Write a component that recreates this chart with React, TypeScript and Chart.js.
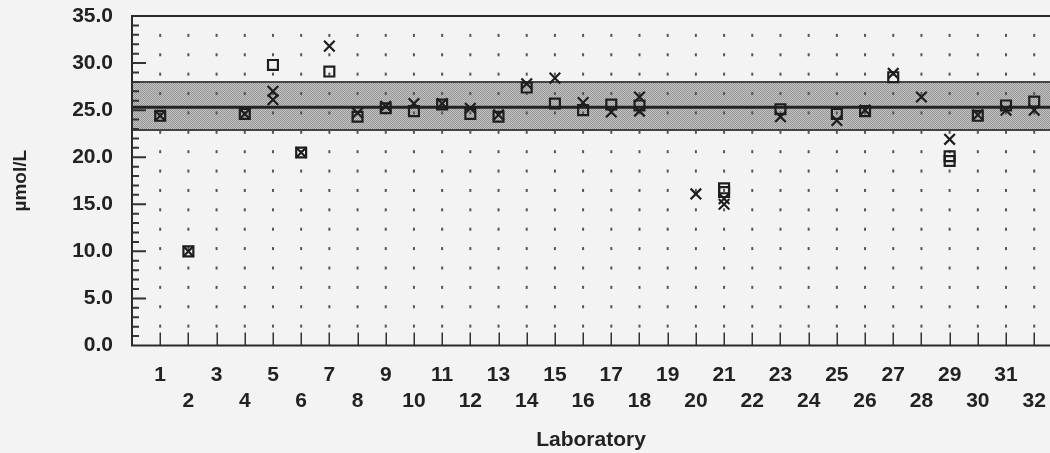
import { useEffect, useRef } from 'react';
import { Chart, registerables } from 'chart.js';

Chart.register(...registerables);

// Laboratory numbers shown on the x axis
const labs = [
  1, 2, 3, 4, 5, 6, 7, 8, 9, 10, 11, 12, 13, 14, 15, 16,
  17, 18, 19, 20, 21, 22, 23, 24, 25, 26, 27, 28, 29, 30, 31, 32,
];

// Results per laboratory (µmol/L); null = no result reported
const squareA = [
  24.4, 10.0, null, 24.6, 29.8, 20.5, 29.1, 24.3, 25.2, 24.9, 25.6, 24.6, 24.3, 27.4, 25.7, 25.0,
  25.6, 25.5, null, null, 16.7, null, 25.1, null, 24.6, 24.9, 28.5, null, 20.1, 24.4, 25.5, 25.9,
];
const squareB = [
  null, null, null, null, null, null, null, null, null, null, null, null, null, null, null, null,
  null, null, null, null, 16.3, null, null, null, null, null, null, null, 19.6, null, null, null,
];
const crossA = [
  24.4, 10.0, null, 24.6, 27.0, 20.5, 31.8, 24.7, 25.4, 25.7, 25.7, 25.2, 24.5, 27.8, 28.4, 25.8,
  24.8, 26.4, null, 16.1, 15.6, null, 24.3, null, 23.9, 25.0, 28.9, 26.4, 21.9, 24.5, 25.0, 25.0,
];
const crossB = [
  null, null, null, null, 26.1, null, null, null, null, null, null, null, null, null, null, null,
  null, 24.9, null, null, 15.0, null, null, null, null, null, null, null, null, null, null, null,
];

// Consensus mean and acceptance band
const refLow = 22.9;
const refMean = 25.3;
const refHigh = 28.0;

const yMin = 0;
const yMax = 35;
const yStep = 5;
const xMax = 32.56;

const INK = '#222222';
const FONT = '"Liberation Sans", Arial, Helvetica, sans-serif';

const toPoints = (vals: (number | null)[]) =>
  labs.map((lab, i) => ({ x: lab, y: vals[i] })).filter((p) => p.y !== null);

function makeStipple(): CanvasPattern | string {
  const c = document.createElement('canvas');
  c.width = 2;
  c.height = 2;
  const g = c.getContext('2d');
  if (!g) return '#b0b0b0';
  g.fillStyle = '#c2c2c2';
  g.fillRect(0, 0, 2, 2);
  g.fillStyle = '#969696';
  g.fillRect(0, 0, 1, 1);
  g.fillRect(1, 1, 1, 1);
  const p = g.createPattern(c, 'repeat');
  return p || '#b0b0b0';
}

const framePlugin = {
  id: 'labFrame',
  beforeDraw(chart: any) {
    const { ctx, width, height } = chart;
    ctx.save();
    ctx.fillStyle = '#f3f3f3';
    ctx.fillRect(0, 0, width, height);
    ctx.restore();
  },
  beforeDatasetsDraw(chart: any) {
    const { ctx, chartArea, scales } = chart;
    const { left, right, top, bottom } = chartArea;
    const x = scales.x;
    const y = scales.y;
    ctx.save();

    // acceptance band
    const yHi = y.getPixelForValue(refHigh);
    const yLo = y.getPixelForValue(refLow);
    ctx.fillStyle = makeStipple();
    ctx.fillRect(left, yHi, right - left, yLo - yHi);
    ctx.strokeStyle = '#444444';
    ctx.lineWidth = 2;
    ctx.beginPath();
    ctx.moveTo(left, yHi);
    ctx.lineTo(right, yHi);
    ctx.moveTo(left, yLo);
    ctx.lineTo(right, yLo);
    ctx.stroke();

    // consensus mean
    const yM = y.getPixelForValue(refMean);
    ctx.strokeStyle = '#222222';
    ctx.lineWidth = 3;
    ctx.beginPath();
    ctx.moveTo(left, yM);
    ctx.lineTo(right, yM);
    ctx.stroke();

    // dotted column per laboratory
    ctx.fillStyle = '#555555';
    const dotStep = (yMax - yMin) / 17;
    labs.forEach((lab) => {
      const px = x.getPixelForValue(lab);
      for (let j = 1; j <= 16; j++) {
        const py = y.getPixelForValue(j * dotStep);
        ctx.fillRect(px - 1, py - 1.5, 2, 3);
      }
    });

    // inner tick marks on the x axis
    ctx.strokeStyle = '#333';
    ctx.lineWidth = 1.5;
    ctx.beginPath();
    labs.forEach((lab) => {
      const px = Math.round(x.getPixelForValue(lab)) + 0.25;
      ctx.moveTo(px, bottom);
      ctx.lineTo(px, bottom - 13);
    });
    ctx.stroke();

    // inner major/minor tick marks on the y axis
    ctx.lineWidth = 2;
    ctx.beginPath();
    for (let v = yMin + 1; v < yMax; v++) {
      const py = y.getPixelForValue(v);
      const len = v % yStep === 0 ? 14 : 7;
      ctx.moveTo(left, py);
      ctx.lineTo(left + len, py);
    }
    ctx.stroke();

    // frame: left, bottom, top
    ctx.strokeStyle = '#2a2a2a';
    ctx.lineWidth = 2;
    ctx.beginPath();
    ctx.moveTo(right, top);
    ctx.lineTo(left, top);
    ctx.lineTo(left, bottom);
    ctx.lineTo(right, bottom);
    ctx.stroke();

    ctx.restore();
  },
};

const noScalePadding = (s: any) => {
  s.paddingTop = 0;
  s.paddingBottom = 0;
  s.paddingLeft = 0;
  s.paddingRight = 0;
};

export default function App() {
  const canvasRef = useRef<HTMLCanvasElement | null>(null);

  useEffect(() => {
    if (!canvasRef.current) return;
    const markerBase = {
      showLine: false,
      borderColor: '#1e1e1e',
      backgroundColor: 'rgba(0,0,0,0)',
      borderWidth: 2.2,
    };
    const chart = new Chart(canvasRef.current, {
      type: 'scatter',
      data: {
        datasets: [
          { ...markerBase, label: 'Result A', data: toPoints(squareA), pointStyle: 'rect', pointRadius: 7 },
          { ...markerBase, label: 'Result A (repeat)', data: toPoints(squareB), pointStyle: 'rect', pointRadius: 7 },
          { ...markerBase, label: 'Result B', data: toPoints(crossA), pointStyle: 'crossRot', pointRadius: 7.5 },
          { ...markerBase, label: 'Result B (repeat)', data: toPoints(crossB), pointStyle: 'crossRot', pointRadius: 7.5 },
        ],
      },
      options: {
        animation: false,
        responsive: true,
        maintainAspectRatio: false,
        layout: { autoPadding: false, padding: { top: 16, right: 0, bottom: 0, left: 0 } },
        plugins: {
          legend: { display: false },
          tooltip: { enabled: false },
        },
        scales: {
          x: {
            type: 'linear',
            min: 0,
            max: xMax,
            grid: { display: false },
            border: { display: false },
            ticks: {
              stepSize: 1,
              includeBounds: false,
              autoSkip: false,
              maxRotation: 0,
              padding: 8,
              color: INK,
              font: { family: FONT, size: 21, weight: 'bold', lineHeight: 26.7 / 21 },
              callback: (v: any) => {
                const n = Number(v);
                if (!Number.isInteger(n) || n < 1 || n > 32) return '';
                return n % 2 === 1 ? [String(n), ''] : ['', String(n)];
              },
            },
            title: {
              display: true,
              text: 'Laboratory',
              color: INK,
              font: { family: FONT, size: 21, weight: 'bold' },
              padding: { top: 0, bottom: 0 },
            },
            afterFit: (s: any) => {
              s.height = 107.5;
              noScalePadding(s);
            },
          },
          y: {
            min: yMin,
            max: yMax,
            grid: { display: false },
            border: { display: false },
            ticks: {
              stepSize: yStep,
              padding: 11,
              color: INK,
              font: { family: FONT, size: 21, weight: 'bold' },
              callback: (v: any) => Number(v).toFixed(1),
            },
            title: {
              display: true,
              text: 'µmol/L',
              color: INK,
              font: { family: FONT, size: 19, weight: 'bold' },
              padding: { top: 9, bottom: 0 },
            },
            afterFit: (s: any) => {
              s.width = 132;
              noScalePadding(s);
            },
          },
        },
      },
      plugins: [framePlugin],
    });
    return () => chart.destroy();
  }, []);

  return (
    <div style={{ position: 'fixed', left: 0, top: 0, width: 1050, height: 453, background: '#f3f3f3' }}>
      <canvas ref={canvasRef} />
    </div>
  );
}
